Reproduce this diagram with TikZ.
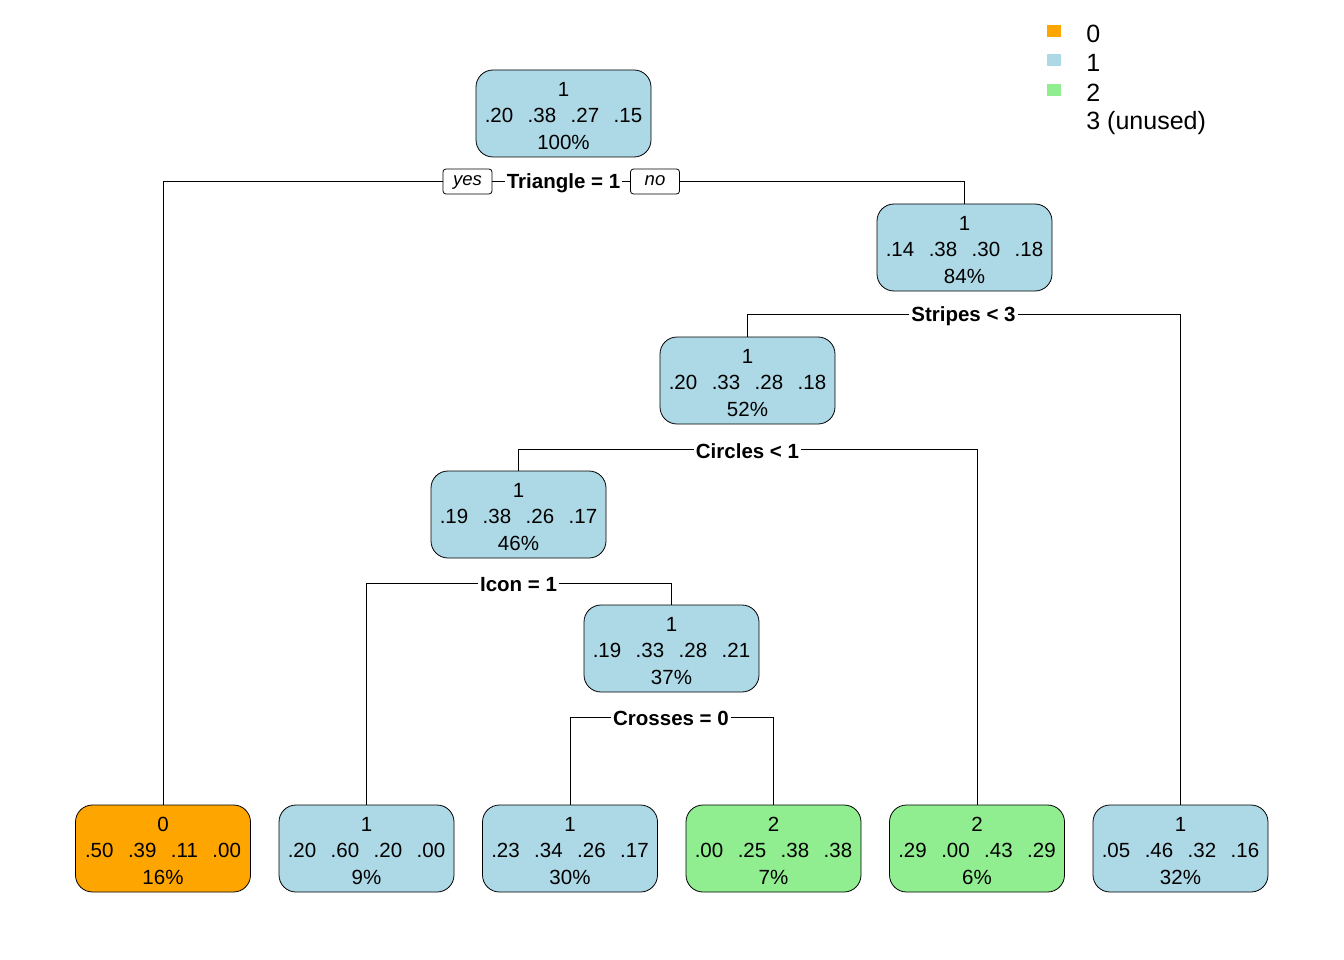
\documentclass[tikz,border=0pt]{standalone}
\usepackage{fontspec}
\setmainfont{Liberation Sans}
\begin{document}
\begin{tikzpicture}[x=1pt,y=-1pt,line width=0.8pt,
  box/.style={draw=black,rounded corners=17pt,minimum width=175pt,minimum height=87pt,inner sep=0pt,align=center,font=\fontsize{20.5}{26.5}\selectfont},
  split/.style={fill=white,inner sep=1.5pt,font=\fontsize{20.5}{24}\selectfont\bfseries},
  yn/.style={draw=black,fill=white,rounded corners=3pt,minimum width=49pt,minimum height=25pt,inner sep=0pt,font=\fontsize{18.5}{20}\selectfont\itshape},
  leg/.style={anchor=west,inner sep=0pt,font=\fontsize{25}{28}\selectfont}]
\definecolor{lb}{HTML}{ADD8E6}
\definecolor{og}{HTML}{FFA500}
\definecolor{lg}{HTML}{90EE90}
\newcommand{\gp}{\hspace{14.5pt}}
\newcommand{\tp}{\rule{0pt}{19pt}}
\newcommand{\ys}{\rule[-4pt]{0pt}{16pt}}
\useasboundingbox (0,0) rectangle (1344,960);
% nodes
\node[box,fill=lb] (n1) at (563.5,113.5) {\tp 1\\.20\gp.38\gp.27\gp.15\\100\%};
\node[box,fill=lb] (n3) at (964.5,247.5) {\tp 1\\.14\gp.38\gp.30\gp.18\\84\%};
\node[box,fill=lb] (n6) at (747.5,380.5) {\tp 1\\.20\gp.33\gp.28\gp.18\\52\%};
\node[box,fill=lb] (n12) at (518.5,514.5) {\tp 1\\.19\gp.38\gp.26\gp.17\\46\%};
\node[box,fill=lb] (n25) at (671.5,648.5) {\tp 1\\.19\gp.33\gp.28\gp.21\\37\%};
\node[box,fill=og] (l2) at (163,848.5) {\tp 0\\.50\gp.39\gp.11\gp.00\\16\%};
\node[box,fill=lb] (l24) at (366.5,848.5) {\tp 1\\.20\gp.60\gp.20\gp.00\\9\%};
\node[box,fill=lb] (l50) at (570,848.5) {\tp 1\\.23\gp.34\gp.26\gp.17\\30\%};
\node[box,fill=lg] (l51) at (773.5,848.5) {\tp 2\\.00\gp.25\gp.38\gp.38\\7\%};
\node[box,fill=lg] (l13) at (977,848.5) {\tp 2\\.29\gp.00\gp.43\gp.29\\6\%};
\node[box,fill=lb] (l7) at (1180.5,848.5) {\tp 1\\.05\gp.46\gp.32\gp.16\\32\%};
% split labels
\node[split] (s1) at (563.5,183) {Triangle = 1};
\node[yn] (yes) at (467.5,181.5) {\ys yes};
\node[yn] (no) at (655,181.5) {\ys no};
\node[split] (s3) at (963.5,316) {Stripes < 3};
\node[split] (s6) at (747.5,451) {Circles < 1};
\node[split] (s12) at (518.5,584.5) {Icon = 1};
\node[split] (s25) at (671,718.5) {Crosses = 0};
% connectors
\draw (yes.west) -| (l2.north);
\draw (yes.east) -- (yes.east -| s1.west);
\draw (no.west -| s1.east) -- (no.west);
\draw (no.east) -| (n3.north);
\draw (s3.west |- 0,314.5) -| (n6.north);
\draw (s3.east |- 0,314.5) -| (l7.north);
\draw (s6.west |- 0,449.5) -| (n12.north);
\draw (s6.east |- 0,449.5) -| (l13.north);
\draw (s12.west |- 0,583) -| (l24.north);
\draw (s12.east |- 0,583) -| (n25.north);
\draw (s25.west |- 0,717) -| (l50.north);
\draw (s25.east |- 0,717) -| (l51.north);
% legend
\fill[og] (1047,25) rectangle (1061,37);
\fill[lb] (1047,54) rectangle (1061,66);
\fill[lg] (1047,84) rectangle (1061,96);
\node[leg] (g0) at (1086,34) {0};
\node[leg] (g1) at (1086,63) {1};
\node[leg] (g2) at (1086,93) {2};
\node[leg] (g3) at (1086,123) {3 (unused)};
\end{tikzpicture}
\end{document}
